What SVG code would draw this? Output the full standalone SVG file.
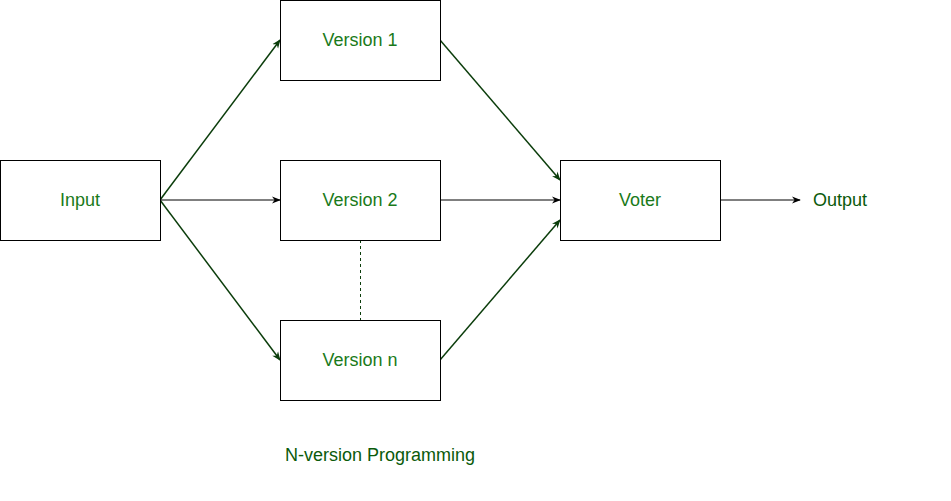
<svg xmlns="http://www.w3.org/2000/svg" width="951" height="501" viewBox="0 0 951 501">
<style>
.box{fill:#fff;stroke:#000;stroke-width:1}
.lbl{font-family:"Liberation Sans",Arial,sans-serif;font-size:18px;fill:#1a7a1a;text-anchor:middle;dominant-baseline:central}
.edge{fill:none;stroke:#000;stroke-width:1}
.diag{fill:none;stroke:#0b3d0b;stroke-width:1.5}
</style>
<defs>
<marker id="ah" viewBox="0 0 10 10" refX="9" refY="5" markerWidth="9" markerHeight="9" markerUnits="userSpaceOnUse" orient="auto">
<path d="M0,1 L10,5 L0,9 L3,5 Z" fill="#000"/>
</marker>
<marker id="ahg" viewBox="0 0 10 10" refX="9" refY="5" markerWidth="9" markerHeight="9" markerUnits="userSpaceOnUse" orient="auto">
<path d="M0,1 L10,5 L0,9 L3,5 Z" fill="#0b3d0b"/>
</marker>
</defs>
<rect width="951" height="501" fill="#fff"/>
<g id="connectors">
<line class="diag" x1="160" y1="200" x2="280" y2="40" marker-end="url(#ahg)"/>
<line class="edge" x1="160" y1="200" x2="280" y2="200" marker-end="url(#ah)"/>
<line class="diag" x1="160" y1="200" x2="280" y2="360" marker-end="url(#ahg)"/>
<line class="diag" x1="440" y1="40" x2="560" y2="180" marker-end="url(#ahg)"/>
<line class="edge" x1="440" y1="200" x2="560" y2="200" marker-end="url(#ah)"/>
<line class="diag" x1="440" y1="360" x2="560" y2="220" marker-end="url(#ahg)"/>
<line class="edge" x1="720" y1="200" x2="800" y2="200" marker-end="url(#ah)"/>
<line x1="360.5" y1="240" x2="360.5" y2="320" stroke="#0b3d0b" stroke-width="1" stroke-dasharray="3,3"/>
</g>
<g id="input"><rect class="box" x="0.5" y="160.5" width="160" height="80"/><text class="lbl" x="80" y="200">Input</text></g>
<g id="v1"><rect class="box" x="280.5" y="0.5" width="160" height="80"/><text class="lbl" x="360" y="40">Version 1</text></g>
<g id="v2"><rect class="box" x="280.5" y="160.5" width="160" height="80"/><text class="lbl" x="360" y="200">Version 2</text></g>
<g id="vn"><rect class="box" x="280.5" y="320.5" width="160" height="80"/><text class="lbl" x="360" y="360">Version n</text></g>
<g id="voter"><rect class="box" x="560.5" y="160.5" width="160" height="80"/><text class="lbl" x="640" y="200">Voter</text></g>
<g id="output"><text class="lbl" x="840" y="200" style="fill:#0b5a0b">Output</text></g>
<g id="title"><text class="lbl" x="380" y="455" style="fill:#0b5a0b">N-version Programming</text></g>
</svg>
